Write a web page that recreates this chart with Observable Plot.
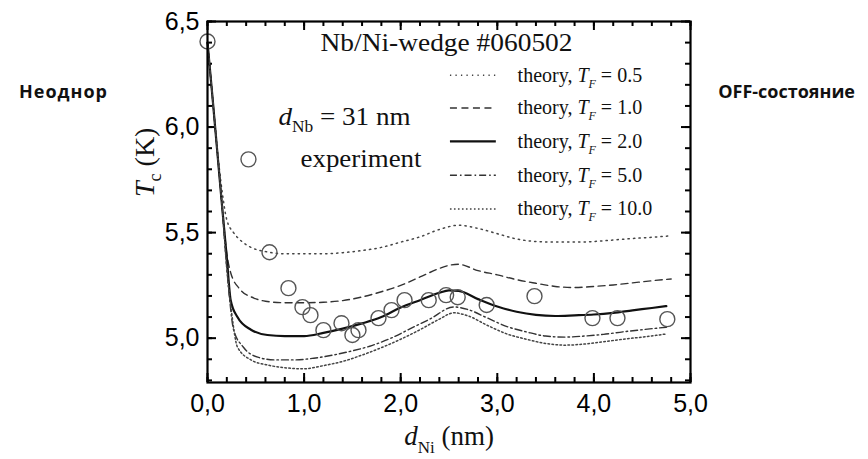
<!DOCTYPE html>
<html><head><meta charset="utf-8">
<script src="https://cdn.jsdelivr.net/npm/d3@7"></script>
<script src="https://cdn.jsdelivr.net/npm/@observablehq/plot@0.6"></script>
<style>
body{margin:0;background:#fff;}
#wrap{position:relative;width:868px;height:459px;overflow:hidden;background:#fff;}
.bg{position:absolute;top:82px;line-height:18px;font-family:"Open Sans",sans-serif;font-weight:700;font-size:18px;color:#111;white-space:nowrap;}
#chart{position:absolute;left:109px;top:0;width:606px;height:459px;background:#fff;}
</style></head><body>
<div id="wrap">
 <div class="bg" style="left:19px;letter-spacing:1px">Неоднор</div>
 <div class="bg" style="right:13px">OFF-состояние</div>
 <div id="chart"></div>
</div>
<script>
// experiment
const expX = [0.00,0.424,0.642,0.838,0.983,1.066,1.20,1.387,1.50,1.563,1.77,1.905,2.04,2.29,2.47,2.59,2.89,3.385,3.985,4.244,4.76];
const expT = [6.405,5.847,5.407,5.237,5.147,5.109,5.038,5.071,5.015,5.038,5.095,5.133,5.18,5.18,5.204,5.194,5.157,5.199,5.095,5.095,5.09];

// theory T_F = 0.5
const tf05X = [0,0.05,0.1,0.15,0.2,0.27,0.35,0.45,0.6,0.8,1.0,1.2,1.4,1.6,1.8,2.0,2.2,2.4,2.6,2.8,3.0,3.2,3.4,3.6,3.8,4.0,4.2,4.4,4.6,4.8];
const tf05T = [6.40,6.15,5.90,5.70,5.56,5.50,5.46,5.43,5.41,5.40,5.40,5.40,5.405,5.415,5.43,5.455,5.48,5.515,5.535,5.52,5.495,5.47,5.458,5.455,5.455,5.458,5.465,5.472,5.478,5.485];
// theory T_F = 1.0
const tf10X = [0,0.05,0.1,0.15,0.2,0.24,0.34,0.48,0.6,0.8,1.0,1.2,1.4,1.6,1.8,2.0,2.2,2.4,2.5,2.6,2.8,3.0,3.2,3.4,3.6,3.8,4.0,4.2,4.4,4.6,4.8];
const tf10T = [6.40,6.15,5.89,5.63,5.40,5.31,5.23,5.19,5.175,5.168,5.168,5.17,5.178,5.195,5.22,5.25,5.29,5.33,5.345,5.35,5.32,5.30,5.277,5.26,5.245,5.24,5.245,5.252,5.262,5.272,5.28];
// theory T_F = 2.0
const tf20X = [0,0.05,0.1,0.15,0.2,0.24,0.31,0.45,0.62,0.8,1.0,1.2,1.4,1.6,1.8,2.0,2.2,2.4,2.5,2.6,2.8,3.0,3.2,3.4,3.6,3.8,4.0,4.2,4.4,4.6,4.75];
const tf20T = [6.40,6.15,5.89,5.63,5.38,5.18,5.10,5.04,5.015,5.01,5.01,5.025,5.045,5.07,5.10,5.145,5.18,5.215,5.226,5.224,5.185,5.15,5.125,5.11,5.105,5.108,5.112,5.12,5.132,5.143,5.152];
// theory T_F = 5.0
const tf50X = [0,0.05,0.1,0.15,0.2,0.23,0.27,0.37,0.52,0.7,0.9,1.1,1.3,1.5,1.7,1.9,2.1,2.3,2.55,2.7,2.9,3.1,3.3,3.5,3.7,3.9,4.1,4.3,4.5,4.75];
const tf50T = [6.40,6.15,5.89,5.63,5.33,5.18,5.04,4.958,4.91,4.897,4.897,4.905,4.92,4.94,4.965,5.0,5.045,5.09,5.148,5.135,5.095,5.055,5.03,5.01,5.005,5.01,5.018,5.03,5.04,5.052];
// theory T_F = 10.0
const tf100X = [0,0.05,0.1,0.15,0.2,0.25,0.31,0.45,0.62,0.8,1.0,1.2,1.4,1.6,1.8,2.0,2.2,2.4,2.55,2.7,2.9,3.1,3.3,3.5,3.7,3.9,4.1,4.3,4.5,4.75];
const tf100T = [6.40,6.15,5.89,5.63,5.33,5.12,4.958,4.897,4.873,4.86,4.855,4.87,4.89,4.92,4.955,4.995,5.04,5.09,5.12,5.105,5.06,5.02,4.995,4.975,4.967,4.972,4.983,4.995,5.005,5.02];

const seriesNames = ["0.5","1.0","2.0","5.0","10.0"];
const seriesX = [tf05X, tf10X, tf20X, tf50X, tf100X];
const seriesT = [tf05T, tf10T, tf20T, tf50T, tf100T];

// tick labels
const xTickValues = [0,1,2,3,4,5];
const yTickValues = [5.0,5.5,6.0,6.5];

// annotations
const noteText = ["Nb/Ni-wedge #060502", "d_Nb = 31 nm", "experiment"];
const noteX = [1.17, 0.735, 0.963];
const noteT = [6.40, 6.046, 5.847];
const legendT = [6.245, 6.09, 5.932, 5.772, 5.612];
const legendX1 = 2.515, legendX2 = 2.99, legendTextX = 3.21;

const lineStyles = [
  {dash:"1.3,4.2", width:1.5, color:"#444"},
  {dash:"7,4.5", width:1.4, color:"#333"},
  {dash:null, width:2.2, color:"#111"},
  {dash:"7,3,1.6,3", width:1.4, color:"#333"},
  {dash:"1.6,2.4", width:1.5, color:"#444"}
];

const W = 606, H = 459, ML = 98, MR = 25, MT = 21, MB = 77;
const FW = W - ML - MR, FH = H - MT - MB;
const xDomain = [0, 5], yDomain = [4.79, 6.5];
const xLen = px => px * (xDomain[1] - xDomain[0]) / FW;
const yLen = px => px * (yDomain[1] - yDomain[0]) / FH;

const fmt = d => d.toFixed(1).replace(".", ",");
const serif = "'Liberation Serif','Times New Roman',serif";

const marks = [];
// inward ticks on all four sides
const minorX = d3.range(0, 5.001, 0.2).map(v => +v.toFixed(1));
const minorY = d3.range(4.8, 6.501, 0.1).map(v => +v.toFixed(1));
const tk = {stroke: "#000", strokeWidth: 2};
for (const [vals, len] of [[minorX, 5], [xTickValues, 9]]) {
  marks.push(Plot.ruleX(vals, {x: d => d, y1: yDomain[0], y2: yDomain[0] + yLen(len), ...tk}));
  marks.push(Plot.ruleX(vals, {x: d => d, y1: yDomain[1], y2: yDomain[1] - yLen(len), ...tk}));
}
for (const [vals, len] of [[minorY, 5], [yTickValues, 9]]) {
  marks.push(Plot.ruleY(vals, {y: d => d, x1: xDomain[0], x2: xDomain[0] + xLen(len), ...tk}));
  marks.push(Plot.ruleY(vals, {y: d => d, x1: xDomain[1], x2: xDomain[1] - xLen(len), ...tk}));
}
marks.push(Plot.axisX({anchor:"bottom", ticks: xTickValues, tickSize: 0, tickPadding: 12, tickFormat: fmt, fontSize: 25, label: null}));
marks.push(Plot.axisY({anchor:"left", ticks: yTickValues, tickSize: 0, tickPadding: 8, tickFormat: fmt, fontSize: 25, label: null}));

// theory curves and legend samples
seriesNames.forEach((name, i) => {
  const s = lineStyles[i];
  const data = seriesX[i].map((x, j) => ({x, t: seriesT[i][j]}));
  marks.push(Plot.line(data, {x: "x", y: "t", curve: "monotone-x", stroke: s.color, strokeWidth: s.width, strokeDasharray: s.dash}));
  marks.push(Plot.ruleY([legendT[i]], {y: d => d, x1: legendX1, x2: legendX2, stroke: s.color, strokeWidth: s.width, strokeDasharray: s.dash}));
  marks.push(Plot.text([`theory, T_F = ${name}`], {x: legendTextX, y: legendT[i], text: d => d, textAnchor: "start", fontFamily: serif, fontSize: 20, fill: "#111"}));
});

// experiment
marks.push(Plot.dot(expX.map((x, i) => ({x, t: expT[i]})), {x: "x", y: "t", r: 7.5, stroke: "#555", strokeWidth: 1.4, fill: "none"}));

// notes
marks.push(Plot.text(noteText.map((s, i) => ({s, x: noteX[i], t: noteT[i]})), {x: "x", y: "t", text: "s", textAnchor: "start", fontFamily: serif, fontSize: 25, fill: "#111"}));

// axis titles
marks.push(Plot.text(["d_Ni (nm)"], {frameAnchor: "bottom", dy: 62, text: d => d, fontFamily: serif, fontSize: 27, fill: "#111"}));
marks.push(Plot.text(["T_c (K)"], {frameAnchor: "left", dx: -62, dy: -5, rotate: -90, text: d => d, fontFamily: serif, fontSize: 28, fill: "#111"}));

marks.push(Plot.frame({stroke: "#000", strokeWidth: 2.2}));

const chart = Plot.plot({
  width: W, height: H,
  marginLeft: ML, marginRight: MR, marginTop: MT, marginBottom: MB,
  x: {domain: xDomain},
  y: {domain: yDomain},
  style: {fontFamily: "'Liberation Sans', Arial, sans-serif", background: "#fff", color: "#000", overflow: "visible"},
  marks
});

// subscripts
const sub = (base, s, rest, fs, it) =>
  `<tspan font-style="italic">${base}</tspan><tspan dy="${Math.round(fs*0.28)}" font-size="${Math.round(fs*0.62)}" font-style="${it?'italic':'normal'}">${s}</tspan><tspan dy="-${Math.round(fs*0.28)}">${rest}</tspan>`;
const noteWidths = {"Nb/Ni-wedge #060502": 252, "d_Nb = 31 nm": 132, "experiment": 121};
chart.querySelectorAll("text").forEach(el => {
  const t = el.textContent;
  let m;
  if (noteWidths[t]) { el.setAttribute("textLength", noteWidths[t]); el.setAttribute("lengthAdjust", "spacingAndGlyphs"); }
  if ((m = t.match(/^theory, T_F = (.*)$/))) el.innerHTML = "theory, " + sub("T", "F", " = " + m[1], 20, true);
  else if (t === "d_Nb = 31 nm") el.innerHTML = sub("d", "Nb", " = 31 nm", 25, false);
  else if (t === "d_Ni (nm)") el.innerHTML = sub("d", "Ni", " (nm)", 27, false);
  else if (t === "T_c (K)") el.innerHTML = `<tspan font-style="italic">T</tspan><tspan dy="7" font-size="18">c</tspan><tspan dy="-7"> (K)</tspan>`;
});
document.getElementById("chart").append(chart);
</script>
</body></html>
